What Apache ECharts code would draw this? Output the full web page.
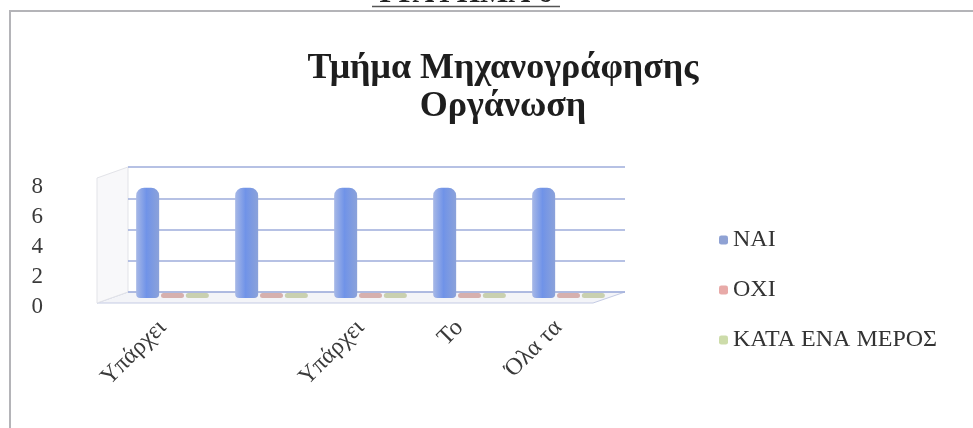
<!DOCTYPE html>
<html>
<head>
<meta charset="utf-8">
<script src="https://cdn.jsdelivr.net/npm/echarts@6/dist/echarts.min.js"></script>
<style>
  html, body { margin: 0; padding: 0; background: #ffffff; }
  #chart { width: 973px; height: 428px; }
</style>
</head>
<body>
<div id="chart"></div>
<script>
// Question categories (only the first word of each survey item is shown)
const categories = ['Υπάρχει', '', 'Υπάρχει', 'Το', 'Όλα τα'];
// Answer counts per category
const seriesNames = ['NAI', 'OXI', 'ΚΑΤΑ ΕΝΑ ΜΕΡΟΣ'];
const valuesYes = [7, 7, 7, 7, 7];
const valuesNo = [0, 0, 0, 0, 0];
const valuesPartly = [0, 0, 0, 0, 0];
// Value axis ticks
const yMin = 0, yMax = 8, yStep = 2;

const serif = '"Liberation Serif", "DejaVu Serif", serif';

const chart = echarts.init(document.getElementById('chart'), null, { renderer: 'canvas' });

const cylinderFill = new echarts.graphic.LinearGradient(0, 0, 1, 0, [
  { offset: 0, color: '#a7b8e6' },
  { offset: 0.45, color: '#7093e8' },
  { offset: 1, color: '#8ba2da' }
]);

chart.setOption({
  backgroundColor: '#ffffff',
  animation: false,
  legend: {
    orient: 'vertical',
    left: 719,
    top: 228,
    itemGap: 26,
    itemWidth: 9,
    itemHeight: 9,
    padding: 0,
    icon: 'roundRect',
    textStyle: { fontFamily: serif, fontSize: 24, color: '#333333' },
    data: [
      { name: seriesNames[0], itemStyle: { color: '#8fa2d4' } },
      { name: seriesNames[1], itemStyle: { color: '#e8aaa8' } },
      { name: seriesNames[2], itemStyle: { color: '#cddcaa' } }
    ]
  },
  grid: [
    // middle depth: bars
    { left: 123, right: 355, top: 172, bottom: 130 },
    // back wall: gridlines
    { left: 128, right: 348, top: 167, bottom: 136 },
    // front edge: axis labels
    { left: 113, right: 365, top: 187, bottom: 121 }
  ],
  xAxis: [
    { type: 'category', gridIndex: 0, data: categories, show: false },
    { type: 'category', gridIndex: 1, data: categories, show: false },
    {
      type: 'category', gridIndex: 2, data: categories,
      axisLine: { show: false }, axisTick: { show: false },
      axisLabel: {
        rotate: 45, margin: 17, interval: 0,
        fontFamily: serif, fontSize: 24, color: '#3a3a3a'
      }
    }
  ],
  yAxis: [
    {
      type: 'value', gridIndex: 0, min: yMin, max: yMax, interval: yStep,
      show: false, splitLine: { show: false }
    },
    {
      type: 'value', gridIndex: 1, min: yMin, max: yMax, interval: yStep,
      axisLine: { show: false }, axisTick: { show: false },
      axisLabel: { show: false },
      splitLine: { lineStyle: { color: '#9eacdb', width: 1.5 } }
    },
    {
      type: 'value', gridIndex: 2, min: yMin, max: yMax, interval: yStep,
      axisLine: { show: false }, axisTick: { show: false },
      splitLine: { show: false },
      axisLabel: { margin: 70, fontFamily: serif, fontSize: 23, color: '#3a3a3a' }
    }
  ],
  series: [
    {
      name: seriesNames[0], type: 'bar', xAxisIndex: 0, yAxisIndex: 0,
      data: valuesYes, barWidth: 23, barGap: '8%',
      itemStyle: { color: cylinderFill, borderRadius: [8, 8, 4, 4] }
    },
    {
      name: seriesNames[1], type: 'bar', xAxisIndex: 0, yAxisIndex: 0,
      data: valuesNo, barWidth: 23, barGap: '8%', barMinHeight: 5,
      itemStyle: { color: '#d6b0ae', borderRadius: 3 }
    },
    {
      name: seriesNames[2], type: 'bar', xAxisIndex: 0, yAxisIndex: 0,
      data: valuesPartly, barWidth: 23, barGap: '8%', barMinHeight: 5,
      itemStyle: { color: '#c9d0b0', borderRadius: 3 }
    }
  ],
  graphic: [
    // heading above the chart frame, cut by the page edge
    {
      type: 'text', x: 466, y: 9,
      style: {
        text: 'ΓΡΑΦΗΜΑ 6', textAlign: 'center', textVerticalAlign: 'bottom',
        font: 'bold 30px ' + serif, fill: '#222222'
      }
    },
    { type: 'line', shape: { x1: 372, y1: 6.5, x2: 560, y2: 6.5 }, style: { stroke: '#555555', lineWidth: 1.5 } },
    // chart frame
    { type: 'polyline', shape: { points: [[10, 428], [10, 11], [973, 11]] }, style: { stroke: '#b4b4b8', lineWidth: 2, fill: null } },
    // 3D floor and side wall outline
    {
      type: 'polygon', z: -1,
      shape: { points: [[97, 303], [593, 303], [625, 292], [128, 292]] },
      style: { fill: '#f3f4f8', stroke: '#c4cbe4', lineWidth: 1 }
    },
    {
      type: 'polygon', z: -1,
      shape: { points: [[97, 303], [128, 292], [128, 167], [97, 178]] },
      style: { fill: '#f8f8fa', stroke: '#e2e3e8', lineWidth: 1 }
    },
    // title
    {
      type: 'text', x: 503, y: 51,
      style: {
        text: 'Τμήμα Μηχανογράφησης', textAlign: 'center',
        font: 'bold 36px ' + serif, fill: '#1e1e1e'
      }
    },
    {
      type: 'text', x: 503, y: 89,
      style: {
        text: 'Οργάνωση', textAlign: 'center',
        font: 'bold 36px ' + serif, fill: '#1e1e1e'
      }
    }
  ]
});
</script>
</body>
</html>
